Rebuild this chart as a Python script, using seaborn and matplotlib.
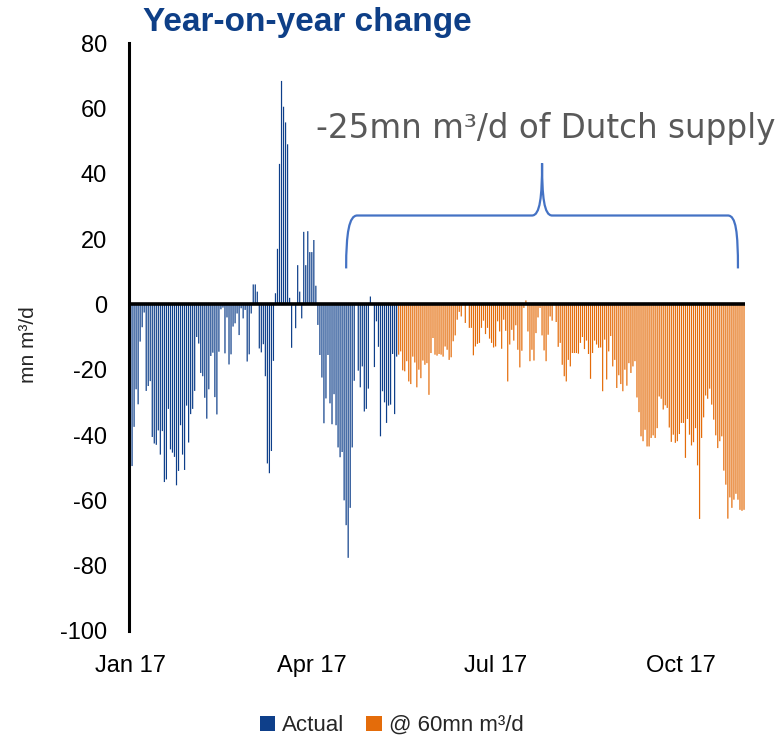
import numpy as np
import pandas as pd
import matplotlib
matplotlib.use('Agg')
import matplotlib.pyplot as plt
import seaborn as sns
from matplotlib.path import Path
from matplotlib.patches import PathPatch

# daily y-o-y change, mn m3/d, from 1 Jan 2017
actual = [-42, -49.5, -37.5, -26, -30.6, -11.4, -7, -2.5, -26.5, -25,
          -23.5, -40.6, -42.6, -43, -38.6, -46, -38.8, -54.4, -53.6, -32,
          -44.4, -45.4, -46.7, -55.4, -51, -37, -46, -50.7, -31, -42.3,
          -33.6, -32, -26.5, -10, -12, -21, -22, -28.6, -35, -26,
          -15.8, -14.8, -28.4, -33.7, -14.5, -1.5, -1, -15, -4, -18.4, -15.3,
          -6.8, -5.8, -2.8, -9.4, -1.2, -4.3, -1.7, -17.5, -15.3, -2.8,
          6.1, 6.1, 3.9, -13.5, -14.7, -12.2, -22, -48.7, -51.7, -44.9,
          -17.3, 3.4, 17, 43, 68.4, 60.5, 55.7, 49, 2, -13.3,
          0, -7.3, 12, 3.9, -4.3, 22.2, 12, 22.4, 16, 16,
          19.7, 5.7, -6.3, -15.5, -22.4, -36.4, -28.8, -15.5, -30.3, -36.7, -27.5,
          -37, -43.8, -46.8, -45.2, -60, -67.6, -77.6, -62.3, -43.8, -23.4,
          0, -20.3, -25.4, -19, -32.8, -32, -25.8, 2.4, 0, -19.2,
          -5.2, -13, -40.4, -26.6, -30, -36.3, -31, -30.7, -15.2, -33.6, -16]

at_60 = [-15.4, -14.4, -20.2, -20.5, -17.4, -23.6, -24.4, -16, -17.8, -25.4,
         -20, -22.6, -17.2, -18.5, -18, -27.7, -14.9, -10.3, -15.4, -15.7,
         -15.2, -15.4, -16, -12.9, -13.9, -17, -16.2, -11.3, -9.5, -4.7,
         -2.3, -3.7, 0, -5.7, 0, -7.2, -7.2, -15.6, -12.9, -12.1,
         -11.8, -7.2, -5, -9.1, -7.2, -10.5, -11.8, -13.2, -12.9, -5.2,
         -8.3, -13.6, -4.7, -8.1, -23.6, -12.3, -7.8, -11.1, -6.4, -13.9,
         -19.3, -14.2, -1.1, 1.2, -8.3, -17.4, -13.9, -17.2, -8.8, -4, -1.1,
         -9.5, -14.1, -17.4, -9.3, -3.7, -5, 0, -5.4, -13, -11.8,
         -18.5, -22, -23.6, -17, -19, -14.9, -14.9, -14.9, -15.1, -11.8,
         -10, -13.7, -11.1, -15.2, -22.8, -14.9, -11.1, -12.3, -13.3, -13.2,
         -26.6, -10.8, -23, -14.4, -9.7, -19, -17, -25.6, -21.7, -24.4,
         -26.6, -20, -24.9, -18, -21, -19, -17.4, -28.5, -33, -40.4, -41.9,
         -38.4, -43.5, -43.5, -40.9, -40.1, -40.9, -37.9, -28.2, -28.9, -32.2,
         -30.9, -31.7, -37.7, -42.1, -39.9, -42.4, -41.9, -39.7, -36.3, -36.3,
         -47, -35.1, -39.9, -43.2, -42.2, -37.9, -49.3, -65.7, -40.9, -34.6,
         -27.9, -28.9, -25.8, -30.7, -35.3, -40.1, -44, -41.9, -40.4, -50.9,
         -55.2, -65.6, -59.1, -62.3, -59.8, -58, -59.8, -62.9, -63.2, -62.9]

series_names = ['Actual', '@ 60mn m³/d']
tick_dates = ['2017-01-01', '2017-04-01', '2017-07-01', '2017-10-01']
tick_labels = ['Jan 17', 'Apr 17', 'Jul 17', 'Oct 17']
y_ticks = [-100, -80, -60, -40, -20, 0, 20, 40, 60, 80]

values = actual + at_60
dates = pd.date_range('2017-01-01', periods=len(values), freq='D')
df = pd.DataFrame({'day': (dates - dates[0]).days,
                   'value': values,
                   'series': [series_names[0]] * len(actual) + [series_names[1]] * len(at_60)})

sns.set_style('white')
plt.rcParams['font.family'] = ['Liberation Sans', 'DejaVu Sans']

fig = plt.figure(figsize=(7.83, 7.42), dpi=100)
ax = fig.add_axes([0.1648, 0.1496, 0.7867, 0.7924])

sns.barplot(data=df, x='day', y='value', hue='series', native_scale=True,
            dodge=False, width=0.6, errorbar=None, saturation=1,
            palette=['#0E3F8A', '#E46C0A'], linewidth=0, snap=False, ax=ax)

ax.set_xlim(-0.5, 304.5)
ax.set_ylim(-100, 80)
ax.set_yticks(y_ticks)
ax.set_yticklabels([str(v) for v in y_ticks])
tick_pos = [(pd.Timestamp(d) - dates[0]).days for d in tick_dates]
ax.set_xticks(tick_pos)
ax.set_xticklabels(tick_labels)
ax.set_xlabel('')
ax.set_ylabel('')
ax.tick_params(axis='both', length=0, labelsize=17, colors='black')
ax.tick_params(axis='x', pad=17)
ax.tick_params(axis='y', pad=16)

for s in ['top', 'right', 'bottom']:
    ax.spines[s].set_visible(False)
ax.spines['left'].set_color('black')
ax.spines['left'].set_linewidth(2.2)
ax.axhline(0, color='black', lw=2.6, zorder=3)

fig.text(0.036, 0.535, 'mn m³/d', rotation=90, va='center', ha='center', fontsize=15)
fig.text(0.183, 0.99, 'Year-on-year change', fontsize=24, fontweight='bold',
         color='#0E3F87', va='top', ha='left')

ax.text(92, 53.9, '-25mn m³/d of Dutch supply', fontsize=23.5, family='DejaVu Sans',
        color='#595959', ha='left', va='center')

# curly brace over the simulated period
verts = [(107, 11), (107, 22), (108.5, 27.2), (112.5, 27.2),
         (199, 27.2),
         (203, 27.2), (204, 33), (204, 43.2),
         (204, 33), (205, 27.2), (209, 27.2),
         (296, 27.2),
         (300, 27.2), (301, 22), (301, 11)]
codes = [Path.MOVETO, Path.CURVE4, Path.CURVE4, Path.CURVE4,
         Path.LINETO,
         Path.CURVE4, Path.CURVE4, Path.CURVE4,
         Path.CURVE4, Path.CURVE4, Path.CURVE4,
         Path.LINETO,
         Path.CURVE4, Path.CURVE4, Path.CURVE4]
ax.add_patch(PathPatch(Path(verts, codes), facecolor='none', edgecolor='#4472C4', lw=1.6, zorder=4))

handles, labels = ax.get_legend_handles_labels()
if ax.get_legend() is not None:
    ax.get_legend().remove()
fig.legend(handles, labels, loc='center', bbox_to_anchor=(0.5, 0.022), ncol=2,
           frameon=False, fontsize=16, handlelength=0.7, handleheight=0.7,
           handletextpad=0.3, columnspacing=1.0)

fig.savefig('out.png', dpi=100)
